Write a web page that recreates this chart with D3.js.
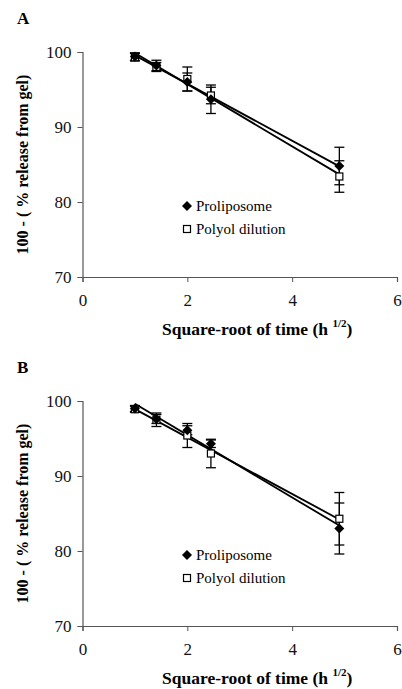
<!DOCTYPE html>
<html><head><meta charset="utf-8">
<script src="https://cdn.jsdelivr.net/npm/d3@7"></script>
<style>body{margin:0;background:#fff}svg{display:block}
svg text{font-family:"Liberation Serif","Times New Roman",Times,serif !important}</style>
</head><body>
<script>
// ---- data ----
const sqrtTime = [1, 1.41, 2, 2.45, 4.9];
const xTicks = [0, 2, 4, 6];
const yTicks = [70, 80, 90, 100];
const seriesNames = ["Proliposome", "Polyol dilution"];
// Panel A
const A_prolip = [99.4, 98.2, 96.0, 93.7, 84.8];
const A_prolipErr = [0.5, 0.7, 1.2, 1.9, 2.5];
const A_polyol = [99.3, 98.0, 96.4, 94.2, 83.4];
const A_polyolErr = [0.5, 0.6, 1.6, 1.1, 2.1];
// Panel B
const B_prolip = [99.0, 97.6, 96.1, 94.3, 83.0];
const B_prolipErr = [0.4, 0.6, 0.6, 0.5, 3.4];
const B_polyol = [98.9, 97.5, 95.4, 93.0, 84.3];
const B_polyolErr = [0.4, 0.9, 1.6, 1.9, 3.5];

const W = 402, H = 689;
const svg = d3.select("body").append("svg").attr("width", W).attr("height", H);

function fit(xs, ys){
  const n = xs.length, mx = d3.mean(xs), my = d3.mean(ys);
  let sxy = 0, sxx = 0;
  for (let i = 0; i < n; i++){ sxy += (xs[i]-mx)*(ys[i]-my); sxx += (xs[i]-mx)**2; }
  const b = sxy/sxx; return {a: my - b*mx, b};
}

function panel(label, top, prolip, prolipErr, polyol, polyolErr){
  const x = d3.scaleLinear().domain([0, 6]).range([82.5, 397]);
  const y = d3.scaleLinear().domain([70, 100]).range([top + 225, top]);
  const g = svg.append("g");

  g.append("text").attr("x", 17).attr("y", top - 28)
    .attr("font-weight", "bold").attr("font-size", 17).text(label);

  const xAxis = g.append("g").attr("transform", `translate(0,${y(70)})`)
    .call(d3.axisBottom(x).tickValues(xTicks).tickSize(5).tickPadding(12).tickFormat(d3.format("d")));
  const yAxis = g.append("g").attr("transform", `translate(${x(0)},0)`)
    .call(d3.axisLeft(y).tickValues(yTicks).tickSize(5).tickPadding(6).tickFormat(d3.format("d")));
  [xAxis, yAxis].forEach(a => {
    a.select(".domain").attr("stroke", "#555").attr("stroke-width", 1.2);
    a.selectAll(".tick line").attr("stroke", "#555");
    a.selectAll("text").attr("font-size", 17).attr("fill", "#111");
  });

  // axis titles
  g.append("text").attr("transform", `translate(28,${y(85)}) rotate(-90)`)
    .attr("text-anchor", "middle").attr("font-weight", "bold")
    .attr("font-size", 16).text("100 - ( % release from gel)");
  const xt = g.append("text").attr("x", 162).attr("y", y(70) + 58)
    .attr("font-weight", "bold").attr("font-size", 17.5);
  xt.append("tspan").text("Square-root of time (h ");
  xt.append("tspan").attr("dy", -8).attr("font-size", 11).text("1/2");
  xt.append("tspan").attr("dy", 8).text(")");

  const series = [
    {vals: prolip, err: prolipErr, kind: "diamond"},
    {vals: polyol, err: polyolErr, kind: "square"}
  ];

  // regression lines
  series.forEach(s => {
    const f = fit(sqrtTime, s.vals);
    const x0 = sqrtTime[0], x1 = sqrtTime[sqrtTime.length - 1];
    g.append("line").attr("x1", x(x0)).attr("y1", y(f.a + f.b*x0))
      .attr("x2", x(x1)).attr("y2", y(f.a + f.b*x1))
      .attr("stroke", "#000").attr("stroke-width", 1.8);
  });

  // error bars
  series.forEach(s => {
    sqrtTime.forEach((t, i) => {
      const cx = x(t), hi = y(s.vals[i] + s.err[i]), lo = y(s.vals[i] - s.err[i]);
      g.append("line").attr("x1", cx).attr("x2", cx).attr("y1", hi).attr("y2", lo)
        .attr("stroke", "#000").attr("stroke-width", 1.3);
      [hi, lo].forEach(yy => g.append("line").attr("x1", cx - 5).attr("x2", cx + 5)
        .attr("y1", yy).attr("y2", yy).attr("stroke", "#000").attr("stroke-width", 1.3));
    });
  });

  function marker(sel, kind, cx, cy){
    if (kind === "diamond"){
      const r = 5;
      sel.append("path").attr("d", `M${cx},${cy-r}L${cx+r},${cy}L${cx},${cy+r}L${cx-r},${cy}Z`)
        .attr("fill", "#000");
    } else {
      sel.append("rect").attr("x", cx - 3.5).attr("y", cy - 3.5).attr("width", 7).attr("height", 7)
        .attr("fill", "#fff").attr("stroke", "#000").attr("stroke-width", 1.2);
    }
  }
  series.slice().reverse().forEach(s => {
    sqrtTime.forEach((t, i) => marker(g, s.kind, x(t), y(s.vals[i])));
  });

  // legend
  series.forEach((s, i) => {
    const ly = top + 154 + i * 23;
    marker(g, s.kind, 187, ly);
    g.append("text").attr("x", 196).attr("y", ly + 5)
      .attr("font-size", 15).text(seriesNames[i]);
  });
}

panel("A", 52, A_prolip, A_prolipErr, A_polyol, A_polyolErr);
panel("B", 401, B_prolip, B_prolipErr, B_polyol, B_polyolErr);
</script>
</body></html>
